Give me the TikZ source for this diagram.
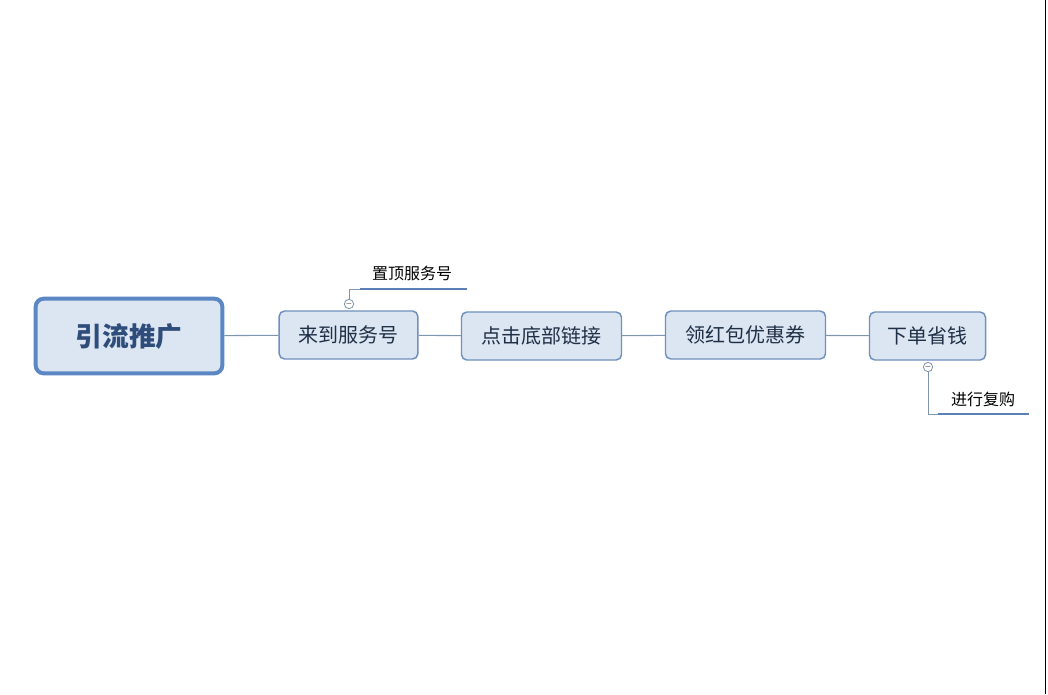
\documentclass[tikz,border=0pt]{standalone}
\usepackage{fontspec}
\newfontfamily\cjk{Noto Sans CJK SC}
\begin{document}
\begin{tikzpicture}[x=0.75pt,y=-0.75pt,
  sub/.style={draw=bbor,fill=bfill,rounded corners=4pt,line width=1.1pt,minimum height=36pt,inner xsep=0pt,font=\cjk\fontsize{15}{15}\selectfont,text=tdark},
  conn/.style={draw=lcol,line width=0.8pt},
  ul/.style={draw=ucol,line width=1.8pt},
  mini/.style={circle,draw=lcol,fill=white,inner sep=0pt,minimum size=7pt,line width=0.6pt,font=\tiny}]
\definecolor{bbor}{HTML}{6F90BE}
\definecolor{bfill}{HTML}{DCE6F2}
\definecolor{mbor}{HTML}{5B87C4}
\definecolor{tdark}{HTML}{1F2F45}
\definecolor{mtext}{HTML}{2E4D7A}
\definecolor{lcol}{HTML}{7E95B0}
\definecolor{ucol}{HTML}{5A80B4}
\useasboundingbox (0,0) rectangle (1048,694);
\fill[white] (0,0) rectangle (1048,694);
\draw[black,line width=1pt] (1045.5,0) -- (1045.5,694);
\node[draw=mbor,fill=bfill,rounded corners=6pt,line width=3pt,minimum width=140pt,minimum height=56pt,font=\cjk\bfseries\fontsize{20}{20}\selectfont,text=mtext] (root) at (129,336) {引流推广};
\node[sub,minimum width=104pt] (a) at (348.5,335) {来到服务号};
\node[sub,minimum width=120pt] (b) at (541.5,336) {点击底部链接};
\node[sub,minimum width=120pt] (c) at (745.5,335) {领红包优惠券};
\node[sub,minimum width=87pt] (d) at (927.5,336) {下单省钱};
\draw[conn] (root) -- (a);
\draw[conn] (a) -- (b);
\draw[conn] (b) -- (c);
\draw[conn] (c) -- (d);
\node[font=\cjk\fontsize{12}{12}\selectfont,text=black] (t1) at (412,273) {置顶服务号};
\coordinate (u1a) at (360,289); \coordinate (u1b) at (467,289);
\draw[ul] (u1a) -- (u1b);
\node[mini] (m1) at (349,304) {$-$};
\draw[conn,line width=0.6pt] (m1.north) |- (u1a);
\node[font=\cjk\fontsize{12}{12}\selectfont,text=black] (t2) at (983,399) {进行复购};
\coordinate (u2a) at (938,414); \coordinate (u2b) at (1029,414);
\draw[ul] (u2a) -- (u2b);
\node[mini] (m2) at (928,367) {$-$};
\draw[conn,line width=0.6pt] (m2.south) |- (u2a);
\end{tikzpicture}
\end{document}
